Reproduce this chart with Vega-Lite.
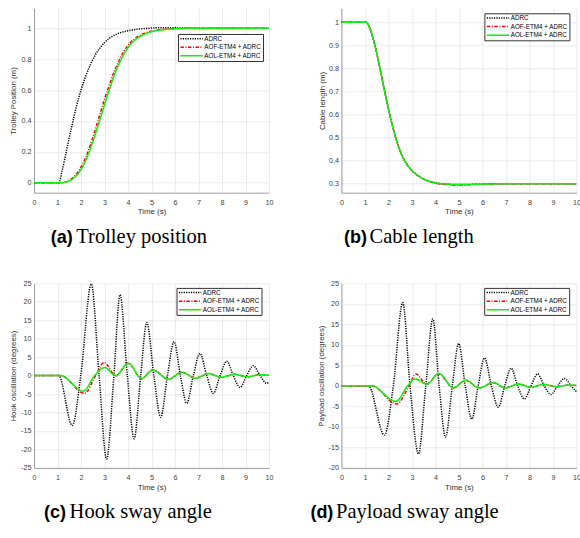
{
"$schema": "https://vega.github.io/schema/vega-lite/v6.json",
"background": "white",
"padding": {"left": 9, "top": 8.3, "right": 2, "bottom": 6},
"config": {
  "view": {"stroke": null},
  "font": "Liberation Sans",
  "axis": {"labelFont": "Liberation Sans", "labelFontSize": 7.2, "labelColor": "#404040", "titleFont": "Liberation Sans", "titleFontSize": 7.9, "titleFontWeight": "normal", "titleColor": "#333333", "domainColor": "#8a8a8a", "domainWidth": 0.8, "gridColor": "#e4e4e4", "gridWidth": 0.7, "ticks": false, "tickSize": 0, "labelFlush": false, "labelOverlap": false, "labelExpr": "'' + datum.value"},
  "axisX": {"labelPadding": 6, "titleY": 19.3, "titleBaseline": "middle"},
  "axisY": {"labelPadding": 3, "titleBaseline": "middle"},
  "legend": {"labelFont": "Liberation Sans", "labelFontSize": 6.3, "labelColor": "#000000", "symbolStrokeWidth": 1.4, "labelOffset": 18.5, "rowPadding": 1.6, "padding": 1.5, "strokeColor": "#333333", "fillColor": "white", "cornerRadius": 0, "labelLimit": 200},
  "title": {"orient": "bottom", "anchor": "start", "frame": "group", "align": "left", "baseline": "top", "font": "Liberation Sans", "fontSize": 18, "fontWeight": "bold", "color": "#000000", "subtitleFont": "Liberation Serif", "subtitleFontSize": 20.5, "subtitleFontWeight": "normal", "subtitleColor": "#000000", "subtitlePadding": -20, "offset": 13.3},
  "line": {"interpolate": "monotone", "strokeWidth": 1.5}
},
"datasets": {
  "a": [
    {"s":"ADRC","t":0,"v":0},{"s":"ADRC","t":1.05,"v":0},{"s":"ADRC","t":1.2,"v":0.08},{"s":"ADRC","t":1.4,"v":0.22},{"s":"ADRC","t":1.6,"v":0.36},{"s":"ADRC","t":1.8,"v":0.49},{"s":"ADRC","t":2.0,"v":0.6},{"s":"ADRC","t":2.2,"v":0.69},{"s":"ADRC","t":2.4,"v":0.765},{"s":"ADRC","t":2.6,"v":0.825},{"s":"ADRC","t":2.8,"v":0.872},{"s":"ADRC","t":3.0,"v":0.908},{"s":"ADRC","t":3.3,"v":0.945},{"s":"ADRC","t":3.6,"v":0.968},{"s":"ADRC","t":4.0,"v":0.985},{"s":"ADRC","t":4.5,"v":0.996},{"s":"ADRC","t":5.0,"v":1.002},{"s":"ADRC","t":5.5,"v":1.004},{"s":"ADRC","t":6.5,"v":1.002},{"s":"ADRC","t":7.5,"v":1.0},{"s":"ADRC","t":10,"v":1.0},
    {"s":"AOF-ETM4 + ADRC","t":0,"v":0},{"s":"AOF-ETM4 + ADRC","t":1.2,"v":0},{"s":"AOF-ETM4 + ADRC","t":1.5,"v":0.015},{"s":"AOF-ETM4 + ADRC","t":1.8,"v":0.055},{"s":"AOF-ETM4 + ADRC","t":2.0,"v":0.1},{"s":"AOF-ETM4 + ADRC","t":2.2,"v":0.165},{"s":"AOF-ETM4 + ADRC","t":2.4,"v":0.245},{"s":"AOF-ETM4 + ADRC","t":2.6,"v":0.34},{"s":"AOF-ETM4 + ADRC","t":2.8,"v":0.44},{"s":"AOF-ETM4 + ADRC","t":3.0,"v":0.54},{"s":"AOF-ETM4 + ADRC","t":3.2,"v":0.63},{"s":"AOF-ETM4 + ADRC","t":3.4,"v":0.715},{"s":"AOF-ETM4 + ADRC","t":3.6,"v":0.785},{"s":"AOF-ETM4 + ADRC","t":3.8,"v":0.845},{"s":"AOF-ETM4 + ADRC","t":4.0,"v":0.89},{"s":"AOF-ETM4 + ADRC","t":4.3,"v":0.935},{"s":"AOF-ETM4 + ADRC","t":4.6,"v":0.962},{"s":"AOF-ETM4 + ADRC","t":5.0,"v":0.982},{"s":"AOF-ETM4 + ADRC","t":5.5,"v":0.993},{"s":"AOF-ETM4 + ADRC","t":6.0,"v":0.998},{"s":"AOF-ETM4 + ADRC","t":6.5,"v":1.0},{"s":"AOF-ETM4 + ADRC","t":10,"v":1.0},
    {"s":"AOL-ETM4 + ADRC","t":0,"v":0},{"s":"AOL-ETM4 + ADRC","t":1.2,"v":0},{"s":"AOL-ETM4 + ADRC","t":1.5,"v":0.012},{"s":"AOL-ETM4 + ADRC","t":1.8,"v":0.045},{"s":"AOL-ETM4 + ADRC","t":2.0,"v":0.085},{"s":"AOL-ETM4 + ADRC","t":2.2,"v":0.145},{"s":"AOL-ETM4 + ADRC","t":2.4,"v":0.22},{"s":"AOL-ETM4 + ADRC","t":2.6,"v":0.31},{"s":"AOL-ETM4 + ADRC","t":2.8,"v":0.405},{"s":"AOL-ETM4 + ADRC","t":3.0,"v":0.505},{"s":"AOL-ETM4 + ADRC","t":3.2,"v":0.6},{"s":"AOL-ETM4 + ADRC","t":3.4,"v":0.69},{"s":"AOL-ETM4 + ADRC","t":3.6,"v":0.765},{"s":"AOL-ETM4 + ADRC","t":3.8,"v":0.825},{"s":"AOL-ETM4 + ADRC","t":4.0,"v":0.875},{"s":"AOL-ETM4 + ADRC","t":4.3,"v":0.925},{"s":"AOL-ETM4 + ADRC","t":4.6,"v":0.955},{"s":"AOL-ETM4 + ADRC","t":5.0,"v":0.978},{"s":"AOL-ETM4 + ADRC","t":5.5,"v":0.991},{"s":"AOL-ETM4 + ADRC","t":6.0,"v":0.997},{"s":"AOL-ETM4 + ADRC","t":6.5,"v":1.0},{"s":"AOL-ETM4 + ADRC","t":10,"v":1.0}
  ],
  "b": [
    {"s":"ADRC","t":0,"v":1},{"s":"ADRC","t":1.05,"v":1},{"s":"ADRC","t":1.2,"v":0.975},{"s":"ADRC","t":1.4,"v":0.91},{"s":"ADRC","t":1.6,"v":0.82},{"s":"ADRC","t":1.8,"v":0.72},{"s":"ADRC","t":2.0,"v":0.625},{"s":"ADRC","t":2.2,"v":0.54},{"s":"ADRC","t":2.4,"v":0.47},{"s":"ADRC","t":2.6,"v":0.418},{"s":"ADRC","t":2.8,"v":0.382},{"s":"ADRC","t":3.0,"v":0.357},{"s":"ADRC","t":3.3,"v":0.332},{"s":"ADRC","t":3.6,"v":0.316},{"s":"ADRC","t":4.0,"v":0.304},{"s":"ADRC","t":4.5,"v":0.298},{"s":"ADRC","t":5.0,"v":0.296},{"s":"ADRC","t":5.5,"v":0.297},{"s":"ADRC","t":6.0,"v":0.298},{"s":"ADRC","t":7.0,"v":0.3},{"s":"ADRC","t":10,"v":0.3},
    {"s":"AOF-ETM4 + ADRC","t":0,"v":1},{"s":"AOF-ETM4 + ADRC","t":1.05,"v":1},{"s":"AOF-ETM4 + ADRC","t":1.2,"v":0.975},{"s":"AOF-ETM4 + ADRC","t":1.4,"v":0.91},{"s":"AOF-ETM4 + ADRC","t":1.6,"v":0.82},{"s":"AOF-ETM4 + ADRC","t":1.8,"v":0.72},{"s":"AOF-ETM4 + ADRC","t":2.0,"v":0.625},{"s":"AOF-ETM4 + ADRC","t":2.2,"v":0.54},{"s":"AOF-ETM4 + ADRC","t":2.4,"v":0.47},{"s":"AOF-ETM4 + ADRC","t":2.6,"v":0.418},{"s":"AOF-ETM4 + ADRC","t":2.8,"v":0.382},{"s":"AOF-ETM4 + ADRC","t":3.0,"v":0.357},{"s":"AOF-ETM4 + ADRC","t":3.3,"v":0.332},{"s":"AOF-ETM4 + ADRC","t":3.6,"v":0.315},{"s":"AOF-ETM4 + ADRC","t":4.0,"v":0.302},{"s":"AOF-ETM4 + ADRC","t":4.5,"v":0.296},{"s":"AOF-ETM4 + ADRC","t":5.0,"v":0.294},{"s":"AOF-ETM4 + ADRC","t":5.5,"v":0.296},{"s":"AOF-ETM4 + ADRC","t":6.0,"v":0.298},{"s":"AOF-ETM4 + ADRC","t":7.0,"v":0.3},{"s":"AOF-ETM4 + ADRC","t":10,"v":0.3},
    {"s":"AOL-ETM4 + ADRC","t":0,"v":1},{"s":"AOL-ETM4 + ADRC","t":1.05,"v":1},{"s":"AOL-ETM4 + ADRC","t":1.2,"v":0.975},{"s":"AOL-ETM4 + ADRC","t":1.4,"v":0.91},{"s":"AOL-ETM4 + ADRC","t":1.6,"v":0.82},{"s":"AOL-ETM4 + ADRC","t":1.8,"v":0.72},{"s":"AOL-ETM4 + ADRC","t":2.0,"v":0.625},{"s":"AOL-ETM4 + ADRC","t":2.2,"v":0.54},{"s":"AOL-ETM4 + ADRC","t":2.4,"v":0.47},{"s":"AOL-ETM4 + ADRC","t":2.6,"v":0.418},{"s":"AOL-ETM4 + ADRC","t":2.8,"v":0.382},{"s":"AOL-ETM4 + ADRC","t":3.0,"v":0.357},{"s":"AOL-ETM4 + ADRC","t":3.3,"v":0.332},{"s":"AOL-ETM4 + ADRC","t":3.6,"v":0.316},{"s":"AOL-ETM4 + ADRC","t":4.0,"v":0.304},{"s":"AOL-ETM4 + ADRC","t":4.5,"v":0.298},{"s":"AOL-ETM4 + ADRC","t":5.0,"v":0.296},{"s":"AOL-ETM4 + ADRC","t":5.5,"v":0.297},{"s":"AOL-ETM4 + ADRC","t":6.0,"v":0.298},{"s":"AOL-ETM4 + ADRC","t":7.0,"v":0.3},{"s":"AOL-ETM4 + ADRC","t":10,"v":0.3}
  ],
  "c": [
    {"s":"ADRC","t":0,"v":0},{"s":"ADRC","t":1.05,"v":0},{"s":"ADRC","t":1.63,"v":-13.5},{"s":"ADRC","t":1.99,"v":0},{"s":"ADRC","t":2.44,"v":24.8},{"s":"ADRC","t":2.77,"v":0},{"s":"ADRC","t":3.09,"v":-22.6},{"s":"ADRC","t":3.4,"v":0},{"s":"ADRC","t":3.66,"v":21.9},{"s":"ADRC","t":3.97,"v":0},{"s":"ADRC","t":4.26,"v":-17.1},{"s":"ADRC","t":4.54,"v":0},{"s":"ADRC","t":4.8,"v":14.4},{"s":"ADRC","t":5.1,"v":0},{"s":"ADRC","t":5.39,"v":-11.3},{"s":"ADRC","t":5.68,"v":0},{"s":"ADRC","t":5.96,"v":9.2},{"s":"ADRC","t":6.23,"v":0},{"s":"ADRC","t":6.5,"v":-7.5},{"s":"ADRC","t":6.78,"v":0},{"s":"ADRC","t":7.06,"v":6.0},{"s":"ADRC","t":7.35,"v":0},{"s":"ADRC","t":7.63,"v":-4.8},{"s":"ADRC","t":7.92,"v":0},{"s":"ADRC","t":8.2,"v":3.9},{"s":"ADRC","t":8.48,"v":0},{"s":"ADRC","t":8.77,"v":-3.2},{"s":"ADRC","t":9.05,"v":0},{"s":"ADRC","t":9.33,"v":2.7},{"s":"ADRC","t":9.62,"v":0},{"s":"ADRC","t":9.9,"v":-2.1},{"s":"ADRC","t":10,"v":-1.8},
    {"s":"AOF-ETM4 + ADRC","t":0,"v":0},{"s":"AOF-ETM4 + ADRC","t":1.13,"v":0},{"s":"AOF-ETM4 + ADRC","t":2.15,"v":-4.8},{"s":"AOF-ETM4 + ADRC","t":2.62,"v":0},{"s":"AOF-ETM4 + ADRC","t":2.98,"v":3.55},{"s":"AOF-ETM4 + ADRC","t":3.48,"v":-0.1},{"s":"AOF-ETM4 + ADRC","t":4.0,"v":3.4},{"s":"AOF-ETM4 + ADRC","t":4.58,"v":-0.9},{"s":"AOF-ETM4 + ADRC","t":5.05,"v":1.6},{"s":"AOF-ETM4 + ADRC","t":5.72,"v":-1.0},{"s":"AOF-ETM4 + ADRC","t":6.3,"v":0.9},{"s":"AOF-ETM4 + ADRC","t":6.87,"v":-0.7},{"s":"AOF-ETM4 + ADRC","t":7.42,"v":0.55},{"s":"AOF-ETM4 + ADRC","t":7.98,"v":-0.45},{"s":"AOF-ETM4 + ADRC","t":8.52,"v":0.35},{"s":"AOF-ETM4 + ADRC","t":9.08,"v":-0.33},{"s":"AOF-ETM4 + ADRC","t":9.65,"v":0.25},{"s":"AOF-ETM4 + ADRC","t":10,"v":0.05},
    {"s":"AOL-ETM4 + ADRC","t":0,"v":0},{"s":"AOL-ETM4 + ADRC","t":1.13,"v":0},{"s":"AOL-ETM4 + ADRC","t":2.1,"v":-4.2},{"s":"AOL-ETM4 + ADRC","t":2.58,"v":0},{"s":"AOL-ETM4 + ADRC","t":3.0,"v":2.2},{"s":"AOL-ETM4 + ADRC","t":3.47,"v":0.0},{"s":"AOL-ETM4 + ADRC","t":4.02,"v":3.3},{"s":"AOL-ETM4 + ADRC","t":4.58,"v":-0.75},{"s":"AOL-ETM4 + ADRC","t":5.05,"v":1.5},{"s":"AOL-ETM4 + ADRC","t":5.72,"v":-1.0},{"s":"AOL-ETM4 + ADRC","t":6.3,"v":0.9},{"s":"AOL-ETM4 + ADRC","t":6.87,"v":-0.7},{"s":"AOL-ETM4 + ADRC","t":7.42,"v":0.55},{"s":"AOL-ETM4 + ADRC","t":7.98,"v":-0.45},{"s":"AOL-ETM4 + ADRC","t":8.52,"v":0.35},{"s":"AOL-ETM4 + ADRC","t":9.08,"v":-0.33},{"s":"AOL-ETM4 + ADRC","t":9.65,"v":0.25},{"s":"AOL-ETM4 + ADRC","t":10,"v":0.05}
  ],
  "d": [
    {"s":"ADRC","t":0,"v":0},{"s":"ADRC","t":1.15,"v":0},{"s":"ADRC","t":1.83,"v":-12.0},{"s":"ADRC","t":2.21,"v":0},{"s":"ADRC","t":2.61,"v":20.3},{"s":"ADRC","t":2.92,"v":0},{"s":"ADRC","t":3.28,"v":-16.6},{"s":"ADRC","t":3.59,"v":0},{"s":"ADRC","t":3.89,"v":16.3},{"s":"ADRC","t":4.16,"v":0},{"s":"ADRC","t":4.43,"v":-12.5},{"s":"ADRC","t":4.72,"v":0},{"s":"ADRC","t":4.99,"v":10.3},{"s":"ADRC","t":5.27,"v":0},{"s":"ADRC","t":5.55,"v":-8.1},{"s":"ADRC","t":5.82,"v":0},{"s":"ADRC","t":6.09,"v":6.8},{"s":"ADRC","t":6.38,"v":0},{"s":"ADRC","t":6.68,"v":-5.2},{"s":"ADRC","t":6.95,"v":0},{"s":"ADRC","t":7.22,"v":4.3},{"s":"ADRC","t":7.5,"v":0},{"s":"ADRC","t":7.79,"v":-3.2},{"s":"ADRC","t":8.07,"v":0},{"s":"ADRC","t":8.35,"v":2.9},{"s":"ADRC","t":8.63,"v":0},{"s":"ADRC","t":8.92,"v":-2.1},{"s":"ADRC","t":9.2,"v":0},{"s":"ADRC","t":9.49,"v":1.8},{"s":"ADRC","t":9.77,"v":0},{"s":"ADRC","t":10,"v":-1.4},
    {"s":"AOF-ETM4 + ADRC","t":0,"v":0},{"s":"AOF-ETM4 + ADRC","t":1.29,"v":0},{"s":"AOF-ETM4 + ADRC","t":2.35,"v":-4.4},{"s":"AOF-ETM4 + ADRC","t":2.88,"v":0},{"s":"AOF-ETM4 + ADRC","t":3.17,"v":2.9},{"s":"AOF-ETM4 + ADRC","t":3.63,"v":0.4},{"s":"AOF-ETM4 + ADRC","t":4.13,"v":2.9},{"s":"AOF-ETM4 + ADRC","t":4.77,"v":-0.5},{"s":"AOF-ETM4 + ADRC","t":5.29,"v":1.3},{"s":"AOF-ETM4 + ADRC","t":5.86,"v":-0.5},{"s":"AOF-ETM4 + ADRC","t":6.47,"v":0.75},{"s":"AOF-ETM4 + ADRC","t":6.97,"v":-0.5},{"s":"AOF-ETM4 + ADRC","t":7.53,"v":0.45},{"s":"AOF-ETM4 + ADRC","t":8.07,"v":-0.35},{"s":"AOF-ETM4 + ADRC","t":8.6,"v":0.35},{"s":"AOF-ETM4 + ADRC","t":9.17,"v":-0.2},{"s":"AOF-ETM4 + ADRC","t":9.66,"v":0.2},{"s":"AOF-ETM4 + ADRC","t":10,"v":0.1},
    {"s":"AOL-ETM4 + ADRC","t":0,"v":0},{"s":"AOL-ETM4 + ADRC","t":1.29,"v":0},{"s":"AOL-ETM4 + ADRC","t":2.31,"v":-3.8},{"s":"AOL-ETM4 + ADRC","t":2.82,"v":0},{"s":"AOL-ETM4 + ADRC","t":3.13,"v":1.7},{"s":"AOL-ETM4 + ADRC","t":3.63,"v":0.4},{"s":"AOL-ETM4 + ADRC","t":4.15,"v":3.0},{"s":"AOL-ETM4 + ADRC","t":4.77,"v":-0.45},{"s":"AOL-ETM4 + ADRC","t":5.29,"v":1.4},{"s":"AOL-ETM4 + ADRC","t":5.86,"v":-0.5},{"s":"AOL-ETM4 + ADRC","t":6.47,"v":0.8},{"s":"AOL-ETM4 + ADRC","t":6.97,"v":-0.5},{"s":"AOL-ETM4 + ADRC","t":7.53,"v":0.45},{"s":"AOL-ETM4 + ADRC","t":8.07,"v":-0.35},{"s":"AOL-ETM4 + ADRC","t":8.6,"v":0.35},{"s":"AOL-ETM4 + ADRC","t":9.17,"v":-0.2},{"s":"AOL-ETM4 + ADRC","t":9.66,"v":0.2},{"s":"AOL-ETM4 + ADRC","t":10,"v":0.1}
  ]
},
"columns": 2,
"spacing": {"row": 90, "column": 72.4},
"bounds": "flush",
"resolve": {"scale": {"color": "independent", "strokeDash": "independent"}},
"concat": [
  {
    "width": 235, "height": 184.4,
    "title": {"text": "(a)", "subtitle": "\u200b\u00a0\u00a0\u00a0\u00a0\u00a0Trolley position", "dx": 16.7},
    "data": {"name": "a"},
    "mark": {"type": "line"},
    "encoding": {
      "x": {"field": "t", "type": "quantitative", "scale": {"domain": [0, 10], "nice": false}, "axis": {"title": "Time (s)", "values": [0,1,2,3,4,5,6,7,8,9,10], "titleY": 19.3}},
      "y": {"field": "v", "type": "quantitative", "scale": {"domain": [-0.065, 1.13], "nice": false, "zero": false}, "axis": {"title": "Trolley Position (m)", "values": [0,0.2,0.4,0.6,0.8,1], "titleX": -20.3}},
      "color": {"field": "s", "type": "nominal", "scale": {"domain": ["ADRC","AOF-ETM4 + ADRC","AOL-ETM4 + ADRC"], "range": ["#000000","#ff0000","#11ee11"]}, "legend": {"title": null, "orient": "none", "legendX": 144, "legendY": 25.7, "symbolType": "M-1,0H9", "symbolSize": 20}},
      "strokeDash": {"field": "s", "type": "nominal", "scale": {"domain": ["ADRC","AOF-ETM4 + ADRC","AOL-ETM4 + ADRC"], "range": [[1.2,1.2],[3.5,1.5,1,1.5],[1,0]]}, "legend": {"title": null, "orient": "none", "legendX": 144, "legendY": 25.7, "symbolType": "M-1,0H9", "symbolSize": 20}}
    }
  },
  {
    "width": 235, "height": 184.4,
    "title": {"text": "(b)", "subtitle": "\u200b\u00a0\u00a0\u00a0\u00a0\u00a0Cable length", "dx": 2.6},
    "data": {"name": "b"},
    "mark": {"type": "line"},
    "encoding": {
      "x": {"field": "t", "type": "quantitative", "scale": {"domain": [0, 10], "nice": false}, "axis": {"title": "Time (s)", "values": [0,1,2,3,4,5,6,7,8,9,10], "titleY": 19.3}},
      "y": {"field": "v", "type": "quantitative", "scale": {"domain": [0.261, 1.06], "nice": false, "zero": false}, "axis": {"title": "Cable length (m)", "values": [0.3,0.4,0.5,0.6,0.7,0.8,0.9,1], "titleX": -19}},
      "color": {"field": "s", "type": "nominal", "scale": {"domain": ["ADRC","AOF-ETM4 + ADRC","AOL-ETM4 + ADRC"], "range": ["#000000","#ff0000","#11ee11"]}, "legend": {"title": null, "orient": "none", "legendX": 143, "legendY": 5, "symbolType": "M-1,0H9", "symbolSize": 20}},
      "strokeDash": {"field": "s", "type": "nominal", "scale": {"domain": ["ADRC","AOF-ETM4 + ADRC","AOL-ETM4 + ADRC"], "range": [[1.2,1.2],[3.5,1.5,1,1.5],[1,0]]}, "legend": {"title": null, "orient": "none", "legendX": 143, "legendY": 5, "symbolType": "M-1,0H9", "symbolSize": 20}}
    }
  },
  {
    "width": 235, "height": 184.6,
    "title": {"text": "(c)", "subtitle": "\u200b\u00a0\u00a0\u00a0\u00a0\u00a0Hook sway angle", "dx": 10},
    "data": {"name": "c"},
    "mark": {"type": "line"},
    "encoding": {
      "x": {"field": "t", "type": "quantitative", "scale": {"domain": [0, 10], "nice": false}, "axis": {"title": "Time (s)", "values": [0,1,2,3,4,5,6,7,8,9,10], "titleY": 19.3}},
      "y": {"field": "v", "type": "quantitative", "scale": {"domain": [-25, 25], "nice": false, "zero": false}, "axis": {"title": "Hook oscillation (degrees)", "values": [-25,-20,-15,-10,-5,0,5,10,15,20,25], "titleX": -20.3}},
      "color": {"field": "s", "type": "nominal", "scale": {"domain": ["ADRC","AOF-ETM4 + ADRC","AOL-ETM4 + ADRC"], "range": ["#000000","#ff0000","#11ee11"]}, "legend": {"title": null, "orient": "none", "legendX": 142.5, "legendY": 4.6, "symbolType": "M-1,0H9", "symbolSize": 20}},
      "strokeDash": {"field": "s", "type": "nominal", "scale": {"domain": ["ADRC","AOF-ETM4 + ADRC","AOL-ETM4 + ADRC"], "range": [[1.2,1.2],[3.5,1.5,1,1.5],[1,0]]}, "legend": {"title": null, "orient": "none", "legendX": 142.5, "legendY": 4.6, "symbolType": "M-1,0H9", "symbolSize": 20}}
    }
  },
  {
    "width": 235, "height": 184.6,
    "title": {"text": "(d)", "subtitle": "\u200b\u00a0\u00a0\u00a0\u00a0\u00a0Payload sway angle", "dx": -31},
    "data": {"name": "d"},
    "mark": {"type": "line"},
    "encoding": {
      "x": {"field": "t", "type": "quantitative", "scale": {"domain": [0, 10], "nice": false}, "axis": {"title": "Time (s)", "values": [0,1,2,3,4,5,6,7,8,9,10], "titleY": 19.3}},
      "y": {"field": "v", "type": "quantitative", "scale": {"domain": [-20, 25], "nice": false, "zero": false}, "axis": {"title": "Payload oscillation (degrees)", "values": [-20,-15,-10,-5,0,5,10,15,20,25], "titleX": -20.3}},
      "color": {"field": "s", "type": "nominal", "scale": {"domain": ["ADRC","AOF-ETM4 + ADRC","AOL-ETM4 + ADRC"], "range": ["#000000","#ff0000","#11ee11"]}, "legend": {"title": null, "orient": "none", "legendX": 142.8, "legendY": 4.6, "symbolType": "M-1,0H9", "symbolSize": 20}},
      "strokeDash": {"field": "s", "type": "nominal", "scale": {"domain": ["ADRC","AOF-ETM4 + ADRC","AOL-ETM4 + ADRC"], "range": [[1.2,1.2],[3.5,1.5,1,1.5],[1,0]]}, "legend": {"title": null, "orient": "none", "legendX": 142.8, "legendY": 4.6, "symbolType": "M-1,0H9", "symbolSize": 20}}
    }
  }
]
}
